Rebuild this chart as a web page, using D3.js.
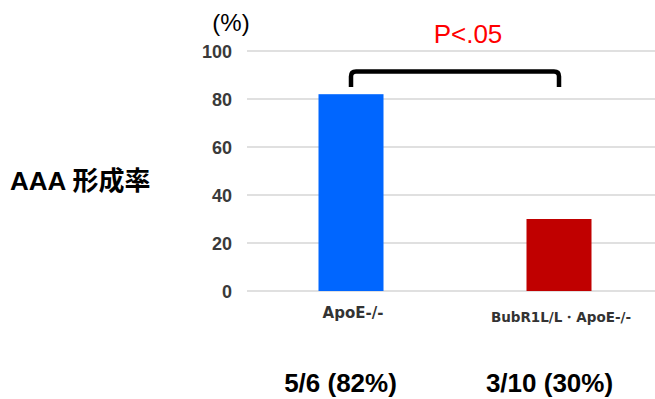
<!DOCTYPE html>
<html><head><meta charset="utf-8">
<script src="https://cdn.jsdelivr.net/npm/d3@7"></script>
<style>body{margin:0;background:#fff}svg{display:block}</style>
</head><body>
<svg id="c" width="655" height="399"></svg>
<script>
const categories = ["ApoE-/-", "BubR1L/L・ApoE-/-"];
const values = [82, 30];
const colors = ["#0066ff", "#c00000"];
const ticks = [0, 20, 40, 60, 80, 100];
const counts = ["5/6 (82%)", "3/10 (30%)"];
const pText = "P<.05";
const yTitle = "(%)";
const sideTitle = "AAA 形成率";

const svg = d3.select("#c");
const y = d3.scaleLinear().domain([0, 100]).range([291, 51]);
const x = d3.scaleBand().domain(categories).range([247, 663])
  .paddingInner(0.6875).paddingOuter(0.34375);

// gridlines
svg.append("g").selectAll("line").data(ticks).join("line")
  .attr("x1", 247).attr("x2", 655)
  .attr("y1", d => y(d)).attr("y2", d => y(d))
  .attr("stroke", "#e0e0e0").attr("stroke-width", 2);

// y tick labels
const yAxis = d3.axisLeft(y).tickValues(ticks).tickSize(0).tickPadding(0);
const ga = svg.append("g").attr("transform", "translate(232,0)").call(yAxis);
ga.select(".domain").remove();
ga.selectAll("text").attr("font-family", "Liberation Sans, Arial, sans-serif")
  .attr("font-size", 18).attr("font-weight", "bold").attr("fill", "#3a3a3a")
  .attr("dy", "0.36em");

// bars
svg.append("g").selectAll("rect").data(categories).join("rect")
  .attr("x", d => x(d)).attr("width", x.bandwidth())
  .attr("y", (d, i) => y(values[i])).attr("height", (d, i) => y(0) - y(values[i]))
  .attr("fill", (d, i) => colors[i]);

// category labels
svg.append("g").selectAll("text").data(categories).join("text")
  .attr("x", d => x(d) + x.bandwidth() / 2 + 2)
  .attr("y", (d, i) => i === 0 ? 318 : 322)
  .attr("text-anchor", "middle")
  .attr("font-family", "DejaVu Sans, sans-serif").attr("font-size", (d, i) => i === 0 ? 15 : 13.5)
  .attr("font-weight", "bold").attr("fill", "#333")
  .text(d => d);

// count labels
const countShift = [-10.5, -9.5];
svg.append("g").selectAll("text").data(counts).join("text")
  .attr("x", (d, i) => x(categories[i]) + x.bandwidth() / 2 + countShift[i])
  .attr("y", 392)
  .attr("text-anchor", "middle")
  .attr("font-family", "Liberation Sans, Arial, sans-serif").attr("font-size", 26)
  .attr("font-weight", "bold").attr("fill", "#000")
  .text(d => d);

// significance bracket
const xl = x(categories[0]) + x.bandwidth() / 2;
const xr = x(categories[1]) + x.bandwidth() / 2;
const yt = y(91.5), yb = y(85);
const r = 5;
svg.append("path")
  .attr("d", `M${xl},${yb} L${xl},${yt + r} Q${xl},${yt} ${xl + r},${yt} L${xr - r},${yt} Q${xr},${yt} ${xr},${yt + r} L${xr},${yb}`)
  .attr("fill", "none").attr("stroke", "#000").attr("stroke-width", 4.5);

svg.append("text").attr("x", 468).attr("y", 43).attr("text-anchor", "middle")
  .attr("font-family", "Liberation Sans, Arial, sans-serif").attr("font-size", 26)
  .attr("fill", "#ff0000").text(pText);

svg.append("text").attr("x", 231).attr("y", 31).attr("text-anchor", "middle")
  .attr("font-family", "Liberation Sans, Arial, sans-serif").attr("font-size", 24)
  .attr("fill", "#000").text(yTitle);

svg.append("text").attr("x", 10).attr("y", 190)
  .attr("font-family", "Liberation Sans, 'Noto Sans CJK JP', sans-serif").attr("font-size", 26)
  .attr("font-weight", "bold").attr("fill", "#000").text(sideTitle);
</script>
</body></html>
